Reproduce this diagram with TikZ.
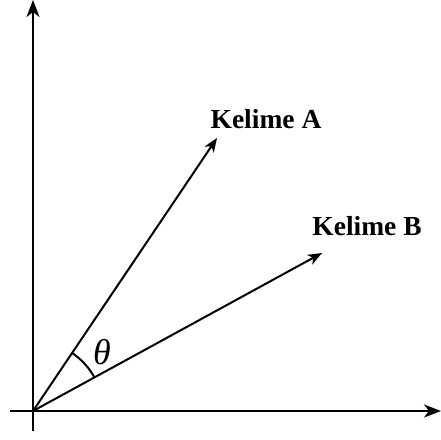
\documentclass[tikz,border=0pt]{standalone}
\usepackage{fontspec}
\setmainfont{Liberation Serif}
\usetikzlibrary{arrows.meta,calc}
\begin{document}
\begin{tikzpicture}[x=1pt,y=-1pt,
  axis/.style={line width=2.2pt,-{Stealth[length=17pt,width=13pt,inset=5pt]}},
  vec/.style={line width=2pt,-{Stealth[length=14pt,width=11pt,inset=4pt]}},
  lbl/.style={font=\fontsize{27.5}{30}\selectfont\bfseries, inner sep=0pt}]
\useasboundingbox (0,0) rectangle (441,439);
\coordinate (O) at (33,411);
\coordinate (ybot) at (33,431);
\coordinate (ytop) at (33,0);
\coordinate (xl) at (10,411);
\coordinate (xr) at (441,411);
\coordinate (A) at (217,138);
\coordinate (B) at (322,253);
\draw[axis] (ybot) -- (ytop);
\draw[axis] (xl) -- (xr);
\draw[vec] (O) -- (A);
\draw[vec] (O) -- (B);
\draw[line width=2pt]
  let \p1=($(A)-(O)$), \p2=($(B)-(O)$), \n1={atan2(\y1,\x1)}, \n2={atan2(\y2,\x2)} in
  ($(O)!70pt!(B)$) arc[start angle=\n2, end angle=\n1, radius=70pt];
\node[lbl] (ka) at (266,119) {Kelime A};
\node[lbl] (kb) at (367,226) {Kelime B};
\node[font=\fontsize{36}{38}\selectfont\itshape, inner sep=0pt] (th) at (102,352) {θ};
\end{tikzpicture}
\end{document}
